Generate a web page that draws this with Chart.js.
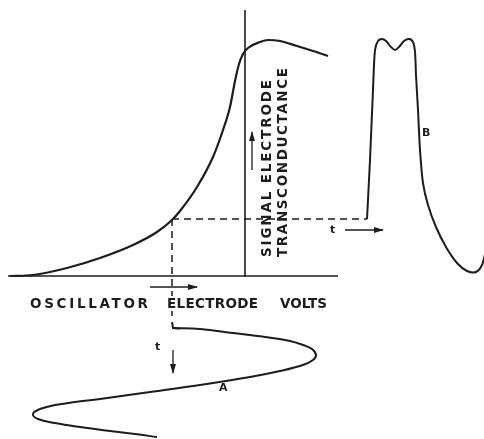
<!DOCTYPE html>
<html lang="en">
<head>
    <meta charset="UTF-8">
    <title>Oscillator Electrode Volts / Signal Electrode Transconductance</title>
    <script src="https://cdn.jsdelivr.net/npm/chart.js@4.4.0/dist/chart.umd.min.js"></script>
    <style>
        body {
            margin: 0;
            background: #fff;
        }
        #wrap {
            width: 484px;
            height: 439px;
        }
    </style>
</head>
<body>
    <div id="wrap"><canvas id="diagram" width="484" height="439"></canvas></div>

    <script>
        // Diagram plane: x to the right, y downwards, both in drawing units.

        // transconductance vs. oscillator electrode volts
        const curveX = [10, 33, 67, 100, 133, 157, 172, 180, 197, 213, 223, 230, 235, 239, 243, 248, 260, 268, 280, 297, 313, 328];
        const curveY = [276, 275, 268, 258, 245, 232, 220, 211, 187, 157, 130, 107, 81, 64, 54, 48, 42, 40, 41, 46, 51, 56];

        // axes
        const baseX = [8, 338];
        const baseY = [276, 276];
        const gmAxisX = [245, 245];
        const gmAxisY = [10, 277];

        // operating point projections
        const projHX = [172, 367];
        const projHY = [219, 219];
        const projVX = [172, 172, null, 172, 172];
        const projVY = [219, 296, null, 311, 316];

        // A: oscillator voltage swing, time running down
        const waveAX = [173, 200, 233, 265, 290, 303, 312, 316, 313, 303, 280, 250, 200, 150, 100, 75, 55, 40, 33, 38, 55, 80, 110, 135, 157];
        const waveAY = [328, 329, 333, 337, 341, 345, 349, 355, 360, 365, 371, 377, 385, 392, 399, 402, 405, 409, 414, 419, 423, 427, 431, 434, 437];
        const hookAX = [172, 173, 180];
        const hookAY = [322, 328, 328.5];

        // B: resulting transconductance, time running right
        const waveBX = [367, 370, 373, 375, 378, 382, 386, 391, 395, 399, 404, 409, 413, 415, 416, 418, 420, 423, 428, 436, 446, 457, 467, 476, 482, 486];
        const waveBY = [219, 160, 90, 50, 41, 39, 41, 47, 50, 47, 41, 39, 42, 52, 75, 110, 150, 183, 205, 227, 247, 263, 271, 272, 265, 250];

        // direction arrows
        const arrows = [
            { x: [150, 197], y: [287, 287] },
            { x: [252, 252], y: [170, 132] },
            { x: [173, 173], y: [350, 373] },
            { x: [345, 383], y: [230, 230] }
        ];

        const labels = [
            { text: 'OSCILLATOR', x: 30, y: 304, fit: 118 },
            { text: 'ELECTRODE', x: 167, y: 304, fit: 91 },
            { text: 'VOLTS', x: 280, y: 304, fit: 47 },
            { text: 'SIGNAL ELECTRODE', x: 267, y: 257, fit: 177, rot: true },
            { text: 'TRANSCONDUCTANCE', x: 283, y: 257, fit: 189, rot: true },
            { text: 't', x: 155, y: 347, size: 11 },
            { text: 'A', x: 219, y: 388, size: 11 },
            { text: 'B', x: 422, y: 133, size: 11 },
            { text: 't', x: 330, y: 230, size: 11 }
        ];

        const INK = '#1d1d1d';

        function pts(xs, ys) {
            return xs.map((x, i) => (x === null ? { x: NaN, y: NaN } : { x: x, y: ys[i] }));
        }

        function line(xs, ys, opts) {
            return Object.assign({
                data: pts(xs, ys),
                showLine: true,
                borderColor: INK,
                borderWidth: 2,
                pointRadius: 0,
                tension: 0,
                spanGaps: false
            }, opts || {});
        }

        const datasets = [
            line(baseX, baseY, { borderWidth: 1.6 }),
            line(gmAxisX, gmAxisY, { borderWidth: 1.6 }),
            line(projHX, projHY, { borderWidth: 1.5, borderDash: [7, 5] }),
            line(projVX, projVY, { borderWidth: 1.5, borderDash: [7, 5] }),
            line(curveX, curveY, { cubicInterpolationMode: 'monotone', borderWidth: 2.2 }),
            line(hookAX, hookAY),
            line(waveAX, waveAY, { tension: 0.4 }),
            line(waveBX, waveBY, { tension: 0.3 })
        ];
        arrows.forEach(a => datasets.push(line(a.x, a.y, { borderWidth: 1.3, arrowHead: true })));

        // filled arrowheads on the last segment of flagged datasets
        const arrowHeads = {
            id: 'arrowHeads',
            afterDatasetsDraw(chart) {
                const ctx = chart.ctx;
                chart.data.datasets.forEach((ds, i) => {
                    if (!ds.arrowHead) return;
                    const el = chart.getDatasetMeta(i).data;
                    const p0 = el[el.length - 2], p1 = el[el.length - 1];
                    const ang = Math.atan2(p1.y - p0.y, p1.x - p0.x);
                    const len = 9, half = 3;
                    ctx.save();
                    ctx.translate(p1.x, p1.y);
                    ctx.rotate(ang);
                    ctx.beginPath();
                    ctx.moveTo(1, 0);
                    ctx.lineTo(-len, -half);
                    ctx.lineTo(-len, half);
                    ctx.closePath();
                    ctx.fillStyle = INK;
                    ctx.fill();
                    ctx.restore();
                });
            }
        };

        // lettering placed in diagram units, words stretched to their drawn length
        const lettering = {
            id: 'lettering',
            afterDraw(chart) {
                const ctx = chart.ctx;
                const sx = chart.scales.x, sy = chart.scales.y;
                labels.forEach(l => {
                    ctx.save();
                    ctx.fillStyle = INK;
                    ctx.font = 'bold ' + (l.size || 13.5) + 'px "DejaVu Sans", sans-serif';
                    ctx.textBaseline = 'middle';
                    ctx.textAlign = 'left';
                    if (l.fit) {
                        ctx.letterSpacing = '0px';
                        const w = ctx.measureText(l.text).width;
                        ctx.letterSpacing = ((l.fit - w) / (l.text.length - 1)) + 'px';
                    }
                    ctx.translate(sx.getPixelForValue(l.x), sy.getPixelForValue(l.y));
                    if (l.rot) ctx.rotate(-Math.PI / 2);
                    ctx.fillText(l.text, 0, 0);
                    ctx.restore();
                });
            }
        };

        new Chart(document.getElementById('diagram'), {
            type: 'scatter',
            data: { datasets: datasets },
            options: {
                responsive: false,
                animation: false,
                layout: { padding: 0 },
                plugins: {
                    legend: { display: false },
                    tooltip: { enabled: false }
                },
                scales: {
                    x: { type: 'linear', min: 0, max: 484, display: false },
                    y: { type: 'linear', min: 0, max: 439, reverse: true, display: false }
                }
            },
            plugins: [arrowHeads, lettering]
        });
    </script>
</body>
</html>
